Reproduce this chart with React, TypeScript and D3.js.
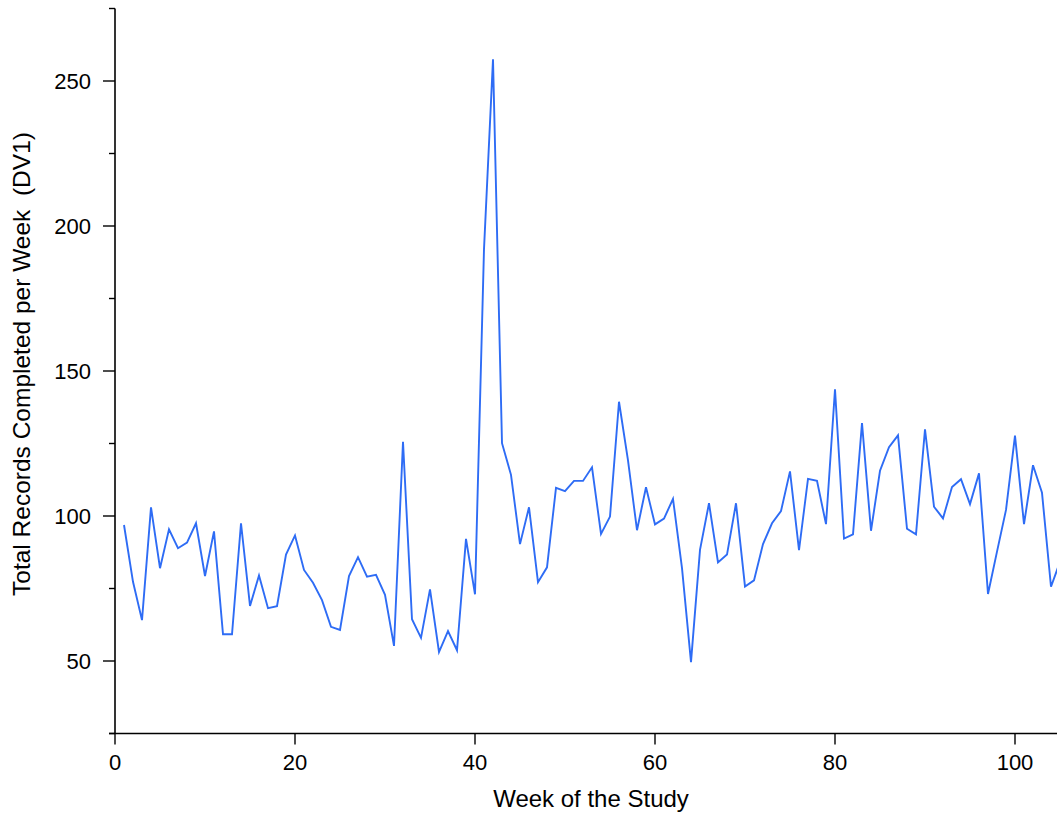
import React from "react";
import * as d3 from "d3";

const weeks: number[] = Array.from({ length: 105 }, (_, i) => i + 1);
const records: number[] = [
  96.9, 77.3, 64.1, 103, 82, 95.4, 88.9, 90.8, 97.5, 79.3,
  94.7, 59.2, 59.2, 97.5, 69, 79.5, 68.2, 68.9, 86.7, 93.3,
  81.4, 77, 71, 61.8, 60.7, 79.3, 85.8, 79.1, 79.7, 72.8,
  55.2, 125.6, 64.4, 58, 74.7, 53.1, 60.3, 53.7, 92.1, 73,
  192, 257.5, 125.1, 114.2, 90.3, 103, 77.2, 82.3, 109.7, 108.6,
  112.1, 112.1, 116.8, 93.8, 99.8, 139.4, 119.2, 95.1, 109.9, 97.1,
  99.1, 105.9, 82, 49.6, 88.3, 104.4, 84, 86.7, 104.4, 75.7,
  77.8, 90.3, 97.5, 101.7, 115.4, 88.2, 112.8, 112.1, 97.2, 143.7,
  92.2, 93.7, 132, 94.9, 115.6, 123.7, 127.8, 95.6, 93.7, 129.9,
  103.2, 99.2, 110, 112.7, 104.1, 114.7, 73.1, 87.7, 102.1, 127.7,
  97.2, 117.5, 108, 75.6, 84.2,
];
const xTicks: number[] = [0, 20, 40, 60, 80, 100];
const yTicks: number[] = [50, 100, 150, 200, 250];
const yMinorTicks: number[] = [25, 75, 125, 175, 225, 275];

const W = 1057;
const H = 815;
const FONT = "'Liberation Sans', Arial, sans-serif";

export default function App() {
  const x = d3.scaleLinear().domain([0, 105]).range([115, 1060]);
  const y = d3.scaleLinear().domain([25, 275]).range([733.5, 8.5]);
  const line = d3
    .line<number>()
    .x((_, i) => x(weeks[i]))
    .y((d) => y(d));
  const y0 = y(25);
  const x0 = x(0);

  return (
    <svg
      width={W}
      height={H}
      style={{ position: "absolute", left: 0, top: 0, background: "#fff" }}
      fontFamily={FONT}
    >
      <rect x={0} y={0} width={W} height={H} fill="#fff" />
      <path d={line(records) || ""} fill="none" stroke="#2e6cf5" strokeWidth={1.9} strokeLinejoin="miter" />
      {/* axes */}
      <line x1={x0 - 6} x2={W} y1={y0} y2={y0} stroke="#000" strokeWidth={1.6} />
      <line x1={x0} x2={x0} y1={y(275)} y2={y0} stroke="#000" strokeWidth={1.6} />
      {xTicks.map((t) => (
        <g key={"xt" + t}>
          <line x1={x(t)} x2={x(t)} y1={y0} y2={y0 + 11} stroke="#000" strokeWidth={1.4} />
          <text x={x(t)} y={770} textAnchor="middle" fontSize={22} fill="#000">
            {t}
          </text>
        </g>
      ))}
      {yTicks.map((t) => (
        <g key={"yt" + t}>
          <line x1={x0 - 12} x2={x0} y1={y(t)} y2={y(t)} stroke="#000" strokeWidth={1.4} />
          <text x={91} y={y(t) + 8} textAnchor="end" fontSize={22} fill="#000">
            {t}
          </text>
        </g>
      ))}
      {yMinorTicks.map((t) => (
        <line key={"ym" + t} x1={x0 - 6} x2={x0} y1={y(t)} y2={y(t)} stroke="#000" strokeWidth={1.4} />
      ))}
      <text x={591} y={807} textAnchor="middle" fontSize={24} fill="#000">
        Week of the Study
      </text>
      <text
        transform={`translate(30,364) rotate(-90)`}
        textAnchor="middle"
        fontSize={24.5}
        fill="#000"
        style={{ whiteSpace: "pre" }}
        xmlSpace="preserve"
      >
        {"Total Records Completed per Week  (DV1)"}
      </text>
    </svg>
  );
}
